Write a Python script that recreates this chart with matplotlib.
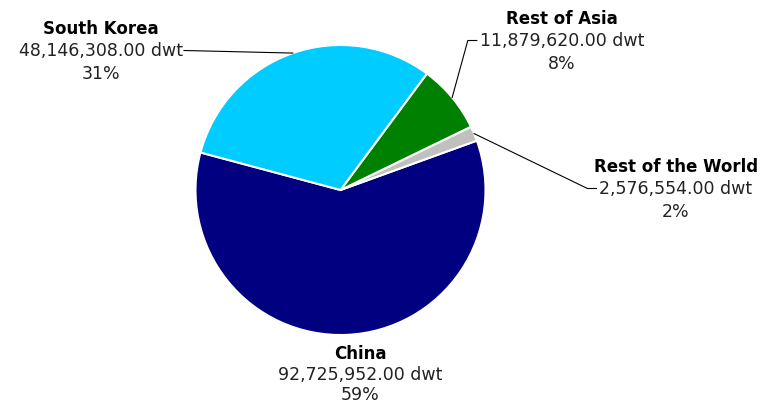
import numpy as np
import matplotlib
matplotlib.use("Agg")
import matplotlib.pyplot as plt

categories = ["China", "Rest of the World", "Rest of Asia", "South Korea"]
values = [92725952.00, 2576554.00, 11879620.00, 48146308.00]
pct_labels = ["59%", "2%", "8%", "31%"]
colors = ["#000080", "#C0C0C0", "#008000", "#00CCFF"]

W, H = 760, 405
fig = plt.figure(figsize=(W / 100, H / 100), dpi=100)
ax = fig.add_axes([0, 0, 1, 1])

cx, cy, r = 340.5, 405 - 190, 145
startangle = 165
wedges, _ = ax.pie(values, colors=colors, startangle=startangle, counterclock=True,
                   center=(cx, cy), radius=r, frame=True,
                   wedgeprops=dict(edgecolor="white", linewidth=1.5))
ax.set_xlim(0, W)
ax.set_ylim(0, H)
ax.set_aspect("equal")
ax.axis("off")

# label placement: (name center x, name y in pixels from top, line height, side of leader)
label_pos = {
    "South Korea": (101, 29, 22.5, "left"),
    "Rest of Asia": (562, 19, 22.5, "right"),
    "Rest of the World": (676, 167, 22.5, "right"),
    "China": (360, 354, 20.5, None),
}
fs = 12
fs_val = 12.5
fig.canvas.draw()
renderer = fig.canvas.get_renderer()
inv = ax.transData.inverted()
for w, name, v, pct in zip(wedges, categories, values, pct_labels):
    x, ytop, lh, side = label_pos[name]
    ax.text(x, H - ytop, name, ha="center", va="center", fontsize=fs, fontweight="bold", color="black")
    vt = ax.text(x, H - ytop - lh, f"{v:,.2f} dwt", ha="center", va="center", fontsize=fs_val, color="#222222")
    ax.text(x, H - ytop - 2 * lh, pct, ha="center", va="center", fontsize=fs_val, color="#222222")
    if side is not None:
        bb = vt.get_window_extent(renderer)
        (x0, _), (x1, _) = inv.transform([[bb.x0, bb.y0], [bb.x1, bb.y1]])
        mid = np.deg2rad((w.theta1 + w.theta2) / 2)
        px, py = cx + r * np.cos(mid), cy + r * np.sin(mid)
        ly = H - ytop - lh + 1
        if side == "left":
            ax.plot([x1 + 1, px], [ly, py], color="black", lw=0.8)
        else:
            ax.plot([x0 - 3, x0 - 12, px], [ly, ly, py], color="black", lw=0.8)

fig.savefig("out.png", dpi=100)
